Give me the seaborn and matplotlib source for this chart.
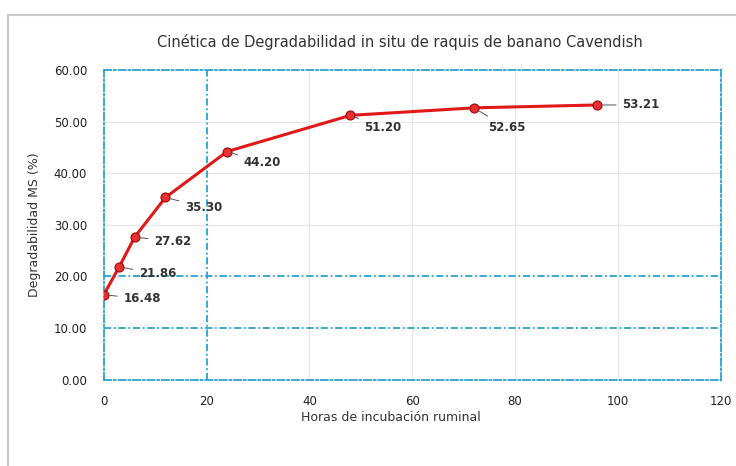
import matplotlib
matplotlib.use("Agg")
import matplotlib.pyplot as plt
import seaborn as sns
import pandas as pd
from matplotlib.patches import Rectangle

# horas de incubacion y degradabilidad de la MS (%)
horas = [0, 3, 6, 12, 24, 48, 72, 96]
degradabilidad = [16.48, 21.86, 27.62, 35.30, 44.20, 51.20, 52.65, 53.21]
etiquetas = ["16.48", "21.86", "27.62", "35.30", "44.20", "51.20", "52.65", "53.21"]
x_ticks = [0, 20, 40, 60, 80, 100, 120]
y_ticks = [0, 10, 20, 30, 40, 50, 60]

# desplazamiento de cada etiqueta (puntos)
offsets = [(14, -3), (14, -5), (14, -3), (14, -7), (12, -8), (10, -9), (10, -14), (18, 0)]

sns.set_theme(style="white")
plt.rcParams["font.family"] = ["DejaVu Sans"]

df = pd.DataFrame({"horas": horas, "deg": degradabilidad})

fig = plt.figure(figsize=(7.36, 4.66), dpi=100)
fig.patches.append(Rectangle((0.011, -0.1), 1.2, 1.068, transform=fig.transFigure,
                             fill=False, edgecolor="#c8c8c8", linewidth=1.5))
ax = fig.add_axes([0.141, 0.185, 0.838, 0.665])

blue = "#2aa3cf"
for v in [40, 60, 80, 100]:
    ax.axvline(v, color="#e6e6e6", linewidth=0.8, zorder=0)
for v in [30, 40, 50]:
    ax.axhline(v, color="#e6e6e6", linewidth=0.8, zorder=0)
ax.axvline(20, color=blue, linewidth=1.3, linestyle=(0, (4, 1.5, 1, 1.5)), zorder=1)
for v in [10, 20]:
    ax.axhline(v, color=blue, linewidth=1.3, linestyle=(0, (4, 1.5, 1, 1.5)), zorder=1)

sns.lineplot(data=df, x="horas", y="deg", ax=ax, color="#e01818", linewidth=2.2,
             marker="o", markersize=6.5, markerfacecolor="#e83030",
             markeredgecolor="#a00000", zorder=3)

for h, d, lab, (dx, dy) in zip(horas, degradabilidad, etiquetas, offsets):
    ax.annotate(lab, (h, d), xytext=(dx, dy), textcoords="offset points",
                fontsize=8.5, fontweight="bold", color="#333333", va="center", ha="left",
                arrowprops=dict(arrowstyle="-", color="#555555", linewidth=0.7,
                                shrinkA=2, shrinkB=3))

ax.set_xlim(0, 120)
ax.set_ylim(0, 60)
ax.set_xticks(x_ticks)
ax.set_yticks(y_ticks)
ax.set_xticklabels([str(t) for t in x_ticks], fontsize=8.5, color="#222222")
ax.set_yticklabels([f"{t:.2f}" for t in y_ticks], fontsize=8.5, color="#222222")
ax.tick_params(axis="x", pad=5)
ax.tick_params(axis="y", pad=6)

for s in ax.spines.values():
    s.set_color(blue)
    s.set_linewidth(1.3)
    s.set_linestyle((0, (4, 1.5, 1, 1.5)))

ax.set_xlabel("Horas de incubación ruminal", fontsize=9, color="#333333", labelpad=2)
ax.xaxis.set_label_coords(0.466, -0.1)
ax.set_ylabel("Degradabilidad MS (%)", fontsize=9, color="#333333", labelpad=9)
fig.text(0.543, 0.91, "Cinética de Degradabilidad in situ de raquis de banano Cavendish",
         ha="center", va="center", fontsize=10.5, color="#333333")

fig.savefig("out.png", dpi=100)
